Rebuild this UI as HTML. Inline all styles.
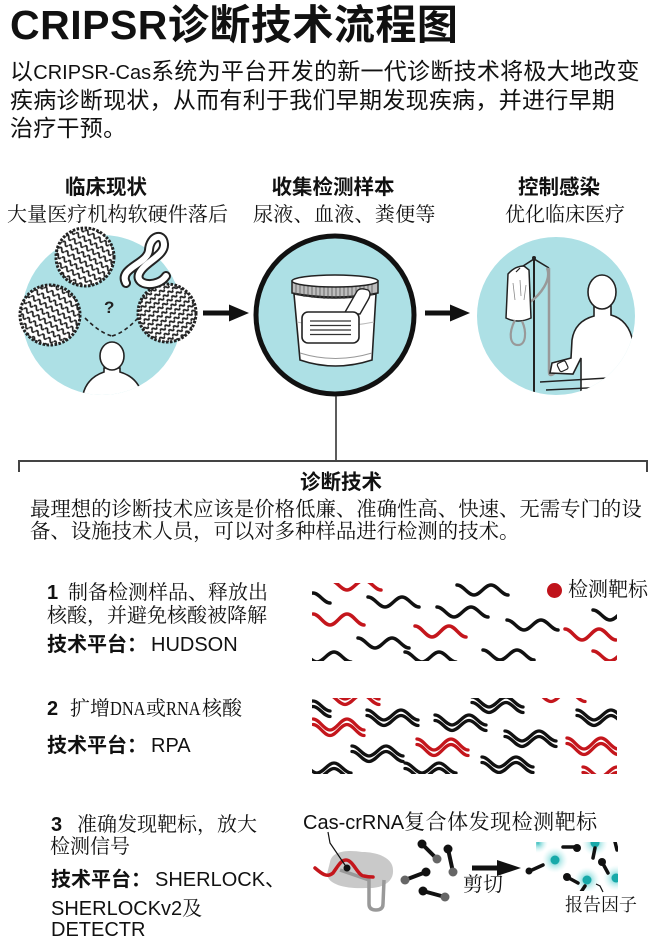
<!DOCTYPE html>
<html><head><meta charset="utf-8">
<style>
html,body{margin:0;padding:0;background:#fff;}
body{width:660px;height:946px;position:relative;overflow:hidden;}
.t{position:absolute;white-space:nowrap;color:#111;}
.sans{font-family:"Liberation Sans","Noto Sans CJK SC",sans-serif;}
.serif{font-family:"Liberation Serif","Noto Serif CJK SC",serif;}
.b{font-weight:bold;}
.arial{font-family:"Liberation Sans",sans-serif;}
.cond{display:inline-block;font-size:20px;transform:scaleX(0.82);transform-origin:left center;}
</style></head>
<body>
<svg width="660" height="946" viewBox="0 0 660 946" style="position:absolute;left:0;top:0">
<defs>
  <pattern id="tex" width="7" height="7" patternUnits="userSpaceOnUse" patternTransform="rotate(30)">
    <rect width="7" height="7" fill="#fff"/>
    <path d="M0,3.5 Q1.75,0 3.5,3.5 T7,3.5" stroke="#222" stroke-width="1.7" fill="none"/>
  </pattern>
  <pattern id="tex2" width="6" height="6" patternUnits="userSpaceOnUse" patternTransform="rotate(-40)">
    <rect width="6" height="6" fill="#fff"/>
    <path d="M0,3 Q1.5,0 3,3 T6,3" stroke="#222" stroke-width="1.8" fill="none"/>
  </pattern>
  <radialGradient id="glow">
    <stop offset="0" stop-color="#1cb3b3" stop-opacity="0.85"/>
    <stop offset="0.45" stop-color="#5fd0d0" stop-opacity="0.45"/>
    <stop offset="1" stop-color="#bfeeee" stop-opacity="0"/>
  </radialGradient>
  <clipPath id="c1"><rect x="312" y="583" width="305" height="78"/></clipPath>
  <clipPath id="c2"><rect x="312" y="698" width="305" height="76"/></clipPath>
  <clipPath id="c3"><rect x="536" y="842" width="82" height="49"/></clipPath>
  <clipPath id="cr"><circle cx="556" cy="316" r="79"/></clipPath>
  <clipPath id="cl"><circle cx="102" cy="315" r="80"/></clipPath>
</defs>

<!-- LEFT CIRCLE -->
<circle cx="102" cy="315" r="80" fill="#ade0e5"/>
<circle cx="85" cy="257" r="29" fill="url(#tex)" stroke="#222" stroke-width="3" stroke-dasharray="2.5 1.5"/>
<circle cx="50" cy="315" r="30" fill="url(#tex)" stroke="#222" stroke-width="3" stroke-dasharray="2.5 1.5"/>
<circle cx="167" cy="313" r="29" fill="url(#tex2)" stroke="#222" stroke-width="3" stroke-dasharray="2.5 1.5"/>
<path d="M126,283 C118,268 148,264 149,250 C150,236 163,232 164,244 C165,256 144,262 139,274 C135,286 158,288 166,276" fill="none" stroke="#222" stroke-width="10" stroke-linecap="round"/>
<path d="M126,283 C118,268 148,264 149,250 C150,236 163,232 164,244 C165,256 144,262 139,274 C135,286 158,288 166,276" fill="none" stroke="#fff" stroke-width="6" stroke-linecap="round"/>
<text x="104" y="313" font-family="Liberation Sans, sans-serif" font-weight="bold" font-size="17" fill="#222">?</text>
<path d="M85,318 Q100,333 112,336 M138,318 Q124,333 112,336" fill="none" stroke="#222" stroke-width="1.6" stroke-dasharray="4 3"/>
<g clip-path="url(#cl)">
<path d="M82,400 C84,382 95,375 104,372 L104,368 L120,368 L120,372 C130,375 141,382 143,400 Z" fill="#fff" stroke="#222" stroke-width="1.6"/>
<ellipse cx="112" cy="356" rx="12" ry="14" fill="#fff" stroke="#222" stroke-width="1.6"/>
</g>

<line x1="203" y1="313" x2="232" y2="313" stroke="#111" stroke-width="5"/>
<polygon points="229,304.5 249,313 229,321.5" fill="#111"/>

<!-- MIDDLE CIRCLE -->
<circle cx="335" cy="315" r="79" fill="#ade0e5" stroke="#111" stroke-width="5"/>
<path d="M294,294 Q335,302 376,294 L372,360 Q335,372 300,360 Z" fill="#fff" stroke="#222" stroke-width="1.6"/>
<path d="M300,353 Q335,364 372,353" fill="none" stroke="#999" stroke-width="1"/>
<path d="M297,322 Q335,330 374,322" fill="none" stroke="#bbb" stroke-width="1"/>
<path d="M292,281 L292,293 Q335,301 378,293 L378,281 Z" fill="#bdbdbd" stroke="#222" stroke-width="1.5"/>
<path d="M296,284 L296,295 M300,284 L300,296 M304,285 L304,297 M308,285 L308,297 M312,285 L312,298 M316,285 L316,298 M320,285 L320,298 M324,285 L324,299 M328,285 L328,299 M332,285 L332,299 M336,285 L336,299 M340,285 L340,299 M344,285 L344,299 M348,285 L348,298 M352,285 L352,298 M356,285 L356,298 M360,285 L360,297 M364,285 L364,297 M368,284 L368,296 M372,284 L372,295" stroke="#555" stroke-width="0.8"/>
<ellipse cx="335" cy="281" rx="43" ry="6" fill="#fff" stroke="#222" stroke-width="1.5"/>
<path d="M344,314 L356,293 Q358,288 364,289 L368,290 Q372,293 368,300 L360,314 Z" fill="#fff" stroke="#222" stroke-width="1.4"/>
<rect x="302" y="312" width="57" height="31" rx="6" fill="#fff" stroke="#222" stroke-width="1.6"/>
<path d="M310,321 L351,321 M310,325.5 L351,325.5 M310,330 L351,330 M310,334.5 L351,334.5" stroke="#333" stroke-width="1.3"/>

<line x1="425" y1="313" x2="453" y2="313" stroke="#111" stroke-width="5"/>
<polygon points="450,304.5 470,313 450,321.5" fill="#111"/>

<!-- RIGHT CIRCLE -->
<circle cx="556" cy="316" r="79" fill="#ade0e5"/>
<g clip-path="url(#cr)">
<line x1="534" y1="257" x2="534" y2="400" stroke="#222" stroke-width="2"/>
<path d="M520,268 L534,259 L549,268" fill="none" stroke="#222" stroke-width="1.6"/>
<circle cx="534" cy="258" r="2" fill="#222"/>
<path d="M547,268 C552,280 540,295 530,302" fill="none" stroke="#999" stroke-width="2.5"/>
<path d="M549,268 L549,372 Q549,378 556,372 L563,366" fill="none" stroke="#999" stroke-width="2.5"/>
<path d="M508,274 Q515,266 524,266 L529,270 L531,318 Q518,324 506,318 Z" fill="#fff" stroke="#222" stroke-width="1.5"/>
<path d="M513,283 L515,300 M520,280 L521,296 M526,285 L524,300" stroke="#888" stroke-width="0.8"/>
<path d="M515,320 C508,334 510,345 518,345 C526,345 527,332 522,321" fill="none" stroke="#999" stroke-width="2.2"/>
<line x1="520" y1="268" x2="516" y2="272" stroke="#222" stroke-width="1.2"/>
<path d="M594,306 L594,316 C583,319 574,326 572,340 L571,358 L552,363 L550,373 L573,374 L581,358 L581,400 L640,400 L633,342 C630,326 622,318 611,315 L611,306 Z" fill="#fff" stroke="#222" stroke-width="1.6"/>
<ellipse cx="602" cy="292" rx="14" ry="17" fill="#fff" stroke="#222" stroke-width="1.6"/>
<rect x="558" y="362" width="9" height="9" rx="2" fill="#fff" stroke="#222" stroke-width="1.2" transform="rotate(-25 562 366)"/>
<path d="M540,382 L625,377 M546,390 L628,386" stroke="#222" stroke-width="1.4" fill="none"/>
</g>

<line x1="336" y1="396" x2="336" y2="461" stroke="#333" stroke-width="1.6"/>
<path d="M19,472 L19,461 L647,461 L647,472" fill="none" stroke="#444" stroke-width="2"/>

<!-- PANEL 1 waves -->
<g clip-path="url(#c1)" fill="none" stroke-width="3.5" stroke-linecap="round">
  <g stroke="#111">
    <path d="M457,585 c6.2,0 10.8,10 17,10 s10.8,-10 17,-10 s10.8,10 17,10"/>
    <path d="M368,597 c6.2,0 10.8,10 17,10 s10.8,-10 17,-10 s10.8,10 17,10"/>
    <path d="M437,607 c6.2,0 10.8,10 17,10 s10.8,-10 17,-10 s10.8,10 17,10"/>
    <path d="M507,620 c6.2,0 10.8,10 17,10 s10.8,-10 17,-10 s10.8,10 17,10"/>
    <path d="M358,638 c6.2,0 10.8,10 17,10 s10.8,-10 17,-10 s10.8,10 17,10"/>
    <path d="M483,650 c6.2,0 10.8,10 17,10 s10.8,-10 17,-10 s10.8,10 17,10"/>
    <path d="M593,610 c6.2,0 10.8,10 17,10 s10.8,-10 17,-10 s10.8,10 17,10"/>
    <path d="M300,652 c6.2,0 10.8,10 17,10 s10.8,-10 17,-10 s10.8,10 17,10"/>
    <path d="M405,652 c6.2,0 10.8,10 17,10 s10.8,-10 17,-10 s10.8,10 17,10"/>
    <path d="M279,593 c6.2,0 10.8,10 17,10 s10.8,-10 17,-10 s10.8,10 17,10"/>
  </g>
  <g stroke="#c4161c">
    <path d="M313,614 c6.2,0 10.8,11 17,11 s10.8,-11 17,-11 s10.8,11 17,11"/>
    <path d="M415,626 c6.2,0 10.8,11 17,11 s10.8,-11 17,-11 s10.8,11 17,11"/>
    <path d="M565,629 c6.2,0 10.8,11 17,11 s10.8,-11 17,-11 s10.8,11 17,11"/>
    <path d="M330,580 c6.2,0 10.8,10 17,10 s10.8,-10 17,-10 s10.8,10 17,10"/>
    <path d="M593,651 c6.2,0 10.8,10 17,10 s10.8,-10 17,-10 s10.8,10 17,10"/>
  </g>
</g>
<circle cx="554.5" cy="590.5" r="7.5" fill="#c0131b"/>

<!-- PANEL 2 waves -->
<g clip-path="url(#c2)" fill="none" stroke-width="3.3" stroke-linecap="round">
  <g stroke="#111">
    <path d="M367,710 c6.2,0 10.8,10 17,10 s10.8,-10 17,-10 s10.8,10 17,10 M367,715.5 c6.2,0 10.8,10 17,10 s10.8,-10 17,-10 s10.8,10 17,10"/>
    <path d="M435,715 c6.2,0 10.8,10 17,10 s10.8,-10 17,-10 s10.8,10 17,10 M435,720.5 c6.2,0 10.8,10 17,10 s10.8,-10 17,-10 s10.8,10 17,10"/>
    <path d="M472,697 c6.2,0 10.8,10 17,10 s10.8,-10 17,-10 s10.8,10 17,10 M472,702.5 c6.2,0 10.8,10 17,10 s10.8,-10 17,-10 s10.8,10 17,10"/>
    <path d="M577,710 c6.2,0 10.8,10 17,10 s10.8,-10 17,-10 s10.8,10 17,10 M577,715.5 c6.2,0 10.8,10 17,10 s10.8,-10 17,-10 s10.8,10 17,10"/>
    <path d="M505,731 c6.2,0 10.8,10 17,10 s10.8,-10 17,-10 s10.8,10 17,10 M505,736.5 c6.2,0 10.8,10 17,10 s10.8,-10 17,-10 s10.8,10 17,10"/>
    <path d="M352,746 c6.2,0 10.8,10 17,10 s10.8,-10 17,-10 s10.8,10 17,10 M352,751.5 c6.2,0 10.8,10 17,10 s10.8,-10 17,-10 s10.8,10 17,10"/>
    <path d="M482,757 c6.2,0 10.8,10 17,10 s10.8,-10 17,-10 s10.8,10 17,10 M482,762.5 c6.2,0 10.8,10 17,10 s10.8,-10 17,-10 s10.8,10 17,10"/>
    <path d="M300,763 c6.2,0 10.8,10 17,10 s10.8,-10 17,-10 s10.8,10 17,10 M300,768.5 c6.2,0 10.8,10 17,10 s10.8,-10 17,-10 s10.8,10 17,10"/>
    <path d="M405,763 c6.2,0 10.8,10 17,10 s10.8,-10 17,-10 s10.8,10 17,10 M405,768.5 c6.2,0 10.8,10 17,10 s10.8,-10 17,-10 s10.8,10 17,10"/>
    <path d="M279,701 c6.2,0 10.8,10 17,10 s10.8,-10 17,-10 s10.8,10 17,10 M279,706.5 c6.2,0 10.8,10 17,10 s10.8,-10 17,-10 s10.8,10 17,10"/>
  </g>
  <g stroke="#c4161c">
    <path d="M313,719 c6.2,0 10.8,11 17,11 s10.8,-11 17,-11 s10.8,11 17,11 M313,724.5 c6.2,0 10.8,11 17,11 s10.8,-11 17,-11 s10.8,11 17,11"/>
    <path d="M417,739 c6.2,0 10.8,11 17,11 s10.8,-11 17,-11 s10.8,11 17,11 M417,744.5 c6.2,0 10.8,11 17,11 s10.8,-11 17,-11 s10.8,11 17,11"/>
    <path d="M567,738 c6.2,0 10.8,11 17,11 s10.8,-11 17,-11 s10.8,11 17,11 M567,743.5 c6.2,0 10.8,11 17,11 s10.8,-11 17,-11 s10.8,11 17,11"/>
    <path d="M328,689 c6.2,0 10.8,10 17,10 s10.8,-10 17,-10 s10.8,10 17,10 M328,694.5 c6.2,0 10.8,10 17,10 s10.8,-10 17,-10 s10.8,10 17,10"/>
    <path d="M534,686 c6.2,0 10.8,10 17,10 s10.8,-10 17,-10 s10.8,10 17,10 M534,691.5 c6.2,0 10.8,10 17,10 s10.8,-10 17,-10 s10.8,10 17,10"/>
    <path d="M583,767 c6.2,0 10.8,10 17,10 s10.8,-10 17,-10 s10.8,10 17,10 M583,772.5 c6.2,0 10.8,10 17,10 s10.8,-10 17,-10 s10.8,10 17,10"/>
  </g>
</g>

<!-- STEP 3 illustration -->
<path d="M330,862 C332,850 350,850 362,852 C378,852 393,858 393,870 C394,882 382,889 366,888 C350,889 328,886 327,874 Z" fill="#c9c9c9"/>
<path d="M340,870 L369,880 L369,904 Q369,910 376,910 Q383,910 383,904 L384,880" fill="none" stroke="#999" stroke-width="3.5"/>
<path d="M315,868 C322,874 327,878 333,873 C338,866 341,860 346,860 C353,860 358,876 364,876 C368,877 371,877 373,877" fill="none" stroke="#c4161c" stroke-width="3.5" stroke-linecap="round"/>
<path d="M328,832 L330,843 L347,868" fill="none" stroke="#111" stroke-width="1.2"/>
<circle cx="347" cy="868" r="3.5" fill="#111"/>
<g stroke="#111" stroke-width="4" stroke-linecap="round">
  <line x1="422" y1="844" x2="437" y2="859"/>
  <line x1="448" y1="849" x2="453" y2="872"/>
  <line x1="405" y1="880" x2="426" y2="872"/>
  <line x1="423" y1="891" x2="445" y2="897"/>
</g>
<circle cx="422" cy="844" r="4.5" fill="#111"/><circle cx="437" cy="859" r="4.5" fill="#666"/>
<circle cx="448" cy="849" r="4.5" fill="#111"/><circle cx="453" cy="872" r="4.5" fill="#666"/>
<circle cx="405" cy="880" r="4.5" fill="#666"/><circle cx="426" cy="872" r="4.5" fill="#111"/>
<circle cx="423" cy="891" r="4.5" fill="#111"/><circle cx="445" cy="897" r="4.5" fill="#666"/>
<line x1="472" y1="868" x2="500" y2="868" stroke="#111" stroke-width="5"/>
<polygon points="497,860 521,868 497,876" fill="#111"/>
<g clip-path="url(#c3)">
  <circle cx="555" cy="860" r="13" fill="url(#glow)"/>
  <circle cx="595" cy="843" r="13" fill="url(#glow)"/>
  <circle cx="587" cy="880" r="13" fill="url(#glow)"/>
  <circle cx="616" cy="878" r="13" fill="url(#glow)"/>
  <circle cx="538" cy="843" r="10" fill="url(#glow)"/>
  <circle cx="555" cy="860" r="4.5" fill="#17a9a9"/>
  <circle cx="595" cy="843" r="4.5" fill="#17a9a9"/>
  <circle cx="587" cy="880" r="4.5" fill="#17a9a9"/>
  <circle cx="616" cy="878" r="4.5" fill="#17a9a9"/>
  <g stroke="#111" stroke-width="3.5" stroke-linecap="round">
    <line x1="563" y1="847" x2="577" y2="847"/>
    <line x1="595" y1="848" x2="593" y2="858"/>
    <line x1="602" y1="862" x2="608" y2="873"/>
    <line x1="567" y1="877" x2="578" y2="883"/>
    <line x1="585" y1="886" x2="581" y2="892"/>
    <line x1="615" y1="842" x2="617" y2="850"/>
  </g>
  <circle cx="577" cy="848" r="4" fill="#111"/>
  <circle cx="602" cy="862" r="4" fill="#111"/>
  <circle cx="567" cy="877" r="4" fill="#111"/>
</g>
<line x1="543" y1="865" x2="532" y2="870" stroke="#111" stroke-width="3.5" stroke-linecap="round"/>
<circle cx="529" cy="871" r="3.5" fill="#111"/>
<path d="M603,892 L600,886 L596,884" fill="none" stroke="#111" stroke-width="1.2"/>
</svg>

<div class="t sans b" style="left:10px;top:2px;font-size:41px;line-height:46px;letter-spacing:0.5px;">CRIPSR诊断技术流程图</div>

<div class="t sans" style="left:10px;top:56.5px;font-size:23px;line-height:29px;letter-spacing:0.27px;">以<span style="font-size:20px;letter-spacing:0">CRIPSR-Cas</span>系统为平台开发的新一代诊断技术将极大地改变</div>
<div class="t sans" style="left:10px;top:85.5px;font-size:23px;line-height:29px;letter-spacing:0.27px;">疾病诊断现状，从而有利于我们早期发现疾病，并进行早期</div>
<div class="t sans" style="left:10px;top:113.5px;font-size:23px;line-height:29px;letter-spacing:0.27px;">治疗干预。</div>

<div class="t sans b" style="left:56px;width:100px;text-align:center;top:176px;font-size:20.5px;line-height:24px;">临床现状</div>
<div class="t sans b" style="left:253px;width:160px;text-align:center;top:176px;font-size:20.5px;line-height:24px;">收集检测样本</div>
<div class="t sans b" style="left:509px;width:100px;text-align:center;top:176px;font-size:20.5px;line-height:24px;">控制感染</div>

<div class="t serif" style="left:7px;top:203px;font-size:20px;line-height:24px;letter-spacing:0.1px;">大量医疗机构软硬件落后</div>
<div class="t serif" style="left:253px;top:203px;font-size:20px;line-height:24px;letter-spacing:0.3px;">尿液、血液、粪便等</div>
<div class="t serif" style="left:505px;top:203px;font-size:20px;line-height:24px;">优化临床医疗</div>

<div class="t sans b" style="left:300px;top:471px;font-size:20.5px;line-height:24px;">诊断技术</div>
<div class="t serif" style="left:30px;top:498px;font-size:20.4px;line-height:24px;">最理想的诊断技术应该是价格低廉、准确性高、快速、无需专门的设</div>
<div class="t serif" style="left:30px;top:520px;font-size:20.4px;line-height:24px;">备、设施技术人员，可以对多种样品进行检测的技术。</div>

<div class="t serif" style="left:47px;top:581px;font-size:20px;line-height:24px;"><span class="arial b" style="display:inline-block;width:21px;">1</span>制备检测样品、释放出</div>
<div class="t serif" style="left:47px;top:604px;font-size:20px;line-height:24px;">核酸，并避免核酸被降解</div>
<div class="t sans" style="left:47px;top:633px;font-size:20px;line-height:24px;"><b>技术平台：</b><span style="margin-left:4px">HUDSON</span></div>
<div class="t serif" style="left:568px;top:578px;font-size:20px;line-height:24px;">检测靶标</div>

<div class="t serif" style="left:47px;top:697px;font-size:20px;line-height:24px;"><span class="arial b" style="display:inline-block;width:23px;">2</span>扩增<span class="cond" style="width:36px">DNA</span>或<span class="cond" style="width:36px">RNA</span>核酸</div>
<div class="t sans" style="left:47px;top:734px;font-size:20px;line-height:24px;"><b>技术平台：</b><span style="margin-left:4px">RPA</span></div>

<div class="t serif" style="left:51px;top:813px;font-size:20px;line-height:24px;"><span class="arial b" style="display:inline-block;width:26px;">3</span>准确发现靶标，放大</div>
<div class="t serif" style="left:50px;top:835px;font-size:20px;line-height:24px;">检测信号</div>
<div class="t sans" style="left:51px;top:866px;font-size:20px;line-height:24px;"><b>技术平台：</b><span style="margin-left:4px">SHERLOCK</span><span style="font-family:'Noto Sans CJK SC',sans-serif">、</span></div>
<div class="t sans" style="left:51px;top:895px;font-size:20px;line-height:24px;">SHERLOCKv2<span style="font-family:'Noto Serif CJK SC',serif">及</span></div>
<div class="t sans" style="left:51px;top:918px;font-size:20px;line-height:24px;">DETECTR</div>

<div class="t" style="left:303px;top:809px;font-size:20px;line-height:24px;"><span class="arial">Cas-crRNA</span><span style="font-family:'Noto Serif CJK SC',serif;font-size:21px;letter-spacing:0.5px">复合体发现检测靶标</span></div>
<div class="t serif" style="left:463px;top:873px;font-size:20px;line-height:24px;">剪切</div>
<div class="t serif" style="left:565px;top:894px;font-size:18px;line-height:22px;">报告因子</div>
</body></html>
